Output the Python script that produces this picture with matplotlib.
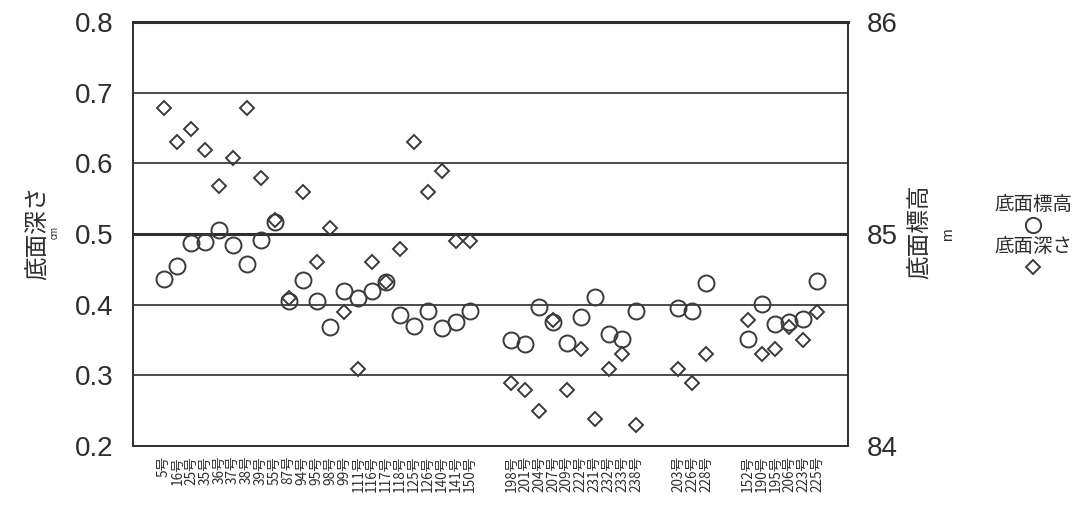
import matplotlib
matplotlib.use('Agg')
import matplotlib.pyplot as plt
from matplotlib.lines import Line2D

plt.rcParams['font.family'] = ['Liberation Sans', 'Noto Sans CJK JP']

# 遺構番号 (4 groups)
labels_1 = ['5号', '16号', '25号', '35号', '36号', '37号', '38号', '39号', '55号', '87号',
            '94号', '95号', '98号', '99号', '111号', '116号', '117号', '118号', '125号',
            '126号', '140号', '141号', '150号']
labels_2 = ['198号', '201号', '204号', '207号', '209号', '222号', '231号', '232号', '233号', '238号']
labels_3 = ['203号', '226号', '228号']
labels_4 = ['152号', '190号', '195号', '206号', '223号', '225号']

# 底面深さ (cm axis)
depth_1 = [0.679, 0.630, 0.649, 0.619, 0.568, 0.608, 0.679, 0.579, 0.520, 0.409,
           0.560, 0.460, 0.509, 0.390, 0.309, 0.460, 0.432, 0.479, 0.630, 0.560,
           0.589, 0.490, 0.490]
depth_2 = [0.289, 0.279, 0.249, 0.378, 0.279, 0.337, 0.238, 0.309, 0.330, 0.230]
depth_3 = [0.309, 0.289, 0.331]
depth_4 = [0.379, 0.331, 0.338, 0.368, 0.350, 0.390]

# 底面標高 (m)
elev_1 = [84.787, 84.847, 84.957, 84.963, 85.020, 84.947, 84.857, 84.970, 85.057, 84.683,
          84.783, 84.683, 84.560, 84.730, 84.700, 84.730, 84.773, 84.620, 84.567, 84.637,
          84.557, 84.583, 84.637]
elev_2 = [84.500, 84.483, 84.657, 84.587, 84.487, 84.610, 84.703, 84.530, 84.503, 84.637]
elev_3 = [84.650, 84.637, 84.770]
elev_4 = [84.503, 84.670, 84.577, 84.587, 84.600, 84.780]

groups = [labels_1, labels_2, labels_3, labels_4]
labels = labels_1 + labels_2 + labels_3 + labels_4
depth = depth_1 + depth_2 + depth_3 + depth_4
elev = elev_1 + elev_2 + elev_3 + elev_4

# x positions: two empty slots between groups
xpos = []
start = 0
for g in groups:
    xpos += list(range(start, start + len(g)))
    start += len(g) + 2

ink = '#2e2e2e'
fig = plt.figure(figsize=(10.83, 5.11), dpi=100)
ax = fig.add_axes([0.1228, 0.127, 0.66, 0.830])
ax2 = ax.twinx()

ax.set_ylim(0.2, 0.8)
ax2.set_ylim(84, 86)
ax.set_xlim(-2.2, xpos[-1] + 2.2)

for y in [0.3, 0.4, 0.6, 0.7]:
    ax.axhline(y, color=ink, lw=1.2, zorder=1)
ax.axhline(0.5, color=ink, lw=2.2, zorder=1)

ax2.plot(xpos, elev, ls='none', marker='o', ms=11.5, mfc='none', mec='#3a3a3a', mew=1.4, zorder=3)
ax.plot(xpos, depth, ls='none', marker='D', ms=7.2, mfc='none', mec='#3a3a3a', mew=1.4, zorder=3)

for a in (ax, ax2):
    for s in a.spines.values():
        s.set_color(ink)
        s.set_linewidth(1.2)
ax.spines['top'].set_linewidth(2.2)

ax.set_yticks([0.2, 0.3, 0.4, 0.5, 0.6, 0.7, 0.8])
ax.set_yticklabels(['0.2', '0.3', '0.4', '0.5', '0.6', '0.7', '0.8'])
ax2.set_yticks([84, 85, 86])
ax.tick_params(axis='y', length=0, pad=14, labelsize=20, colors=ink)
ax2.tick_params(axis='y', length=0, pad=14, labelsize=20, colors=ink)
ax.set_xticks(xpos)
ax.set_xticklabels(labels, rotation=90, fontsize=9.8, color=ink,
                   family=['Noto Sans CJK JP'])
ax.tick_params(axis='x', length=0, pad=7)

fig.text(0.035, 0.545, '底面深さ', rotation=90, fontsize=17, color=ink,
         ha='center', va='center', family=['Noto Sans CJK JP'])
fig.text(0.050, 0.545, 'cm', rotation=90, fontsize=7, color=ink, ha='center', va='center')
fig.text(0.850, 0.546, '底面標高', rotation=90, fontsize=17, color=ink,
         ha='center', va='center', family=['Noto Sans CJK JP'])
fig.text(0.875, 0.540, 'm', rotation=90, fontsize=11, color=ink, ha='center', va='center')

# legend
fig.text(0.954, 0.599, '底面標高', fontsize=14, color=ink, ha='center', va='center',
         family=['Noto Sans CJK JP'])
fig.add_artist(Line2D([0.954], [0.560], marker='o', ms=11, mfc='none', mec='#3a3a3a',
                      mew=1.4, transform=fig.transFigure))
fig.text(0.954, 0.517, '底面深さ', fontsize=14, color=ink, ha='center', va='center',
         family=['Noto Sans CJK JP'])
fig.add_artist(Line2D([0.954], [0.477], marker='D', ms=7.2, mfc='none', mec='#3a3a3a',
                      mew=1.4, transform=fig.transFigure))

fig.savefig('out.png', dpi=100)
